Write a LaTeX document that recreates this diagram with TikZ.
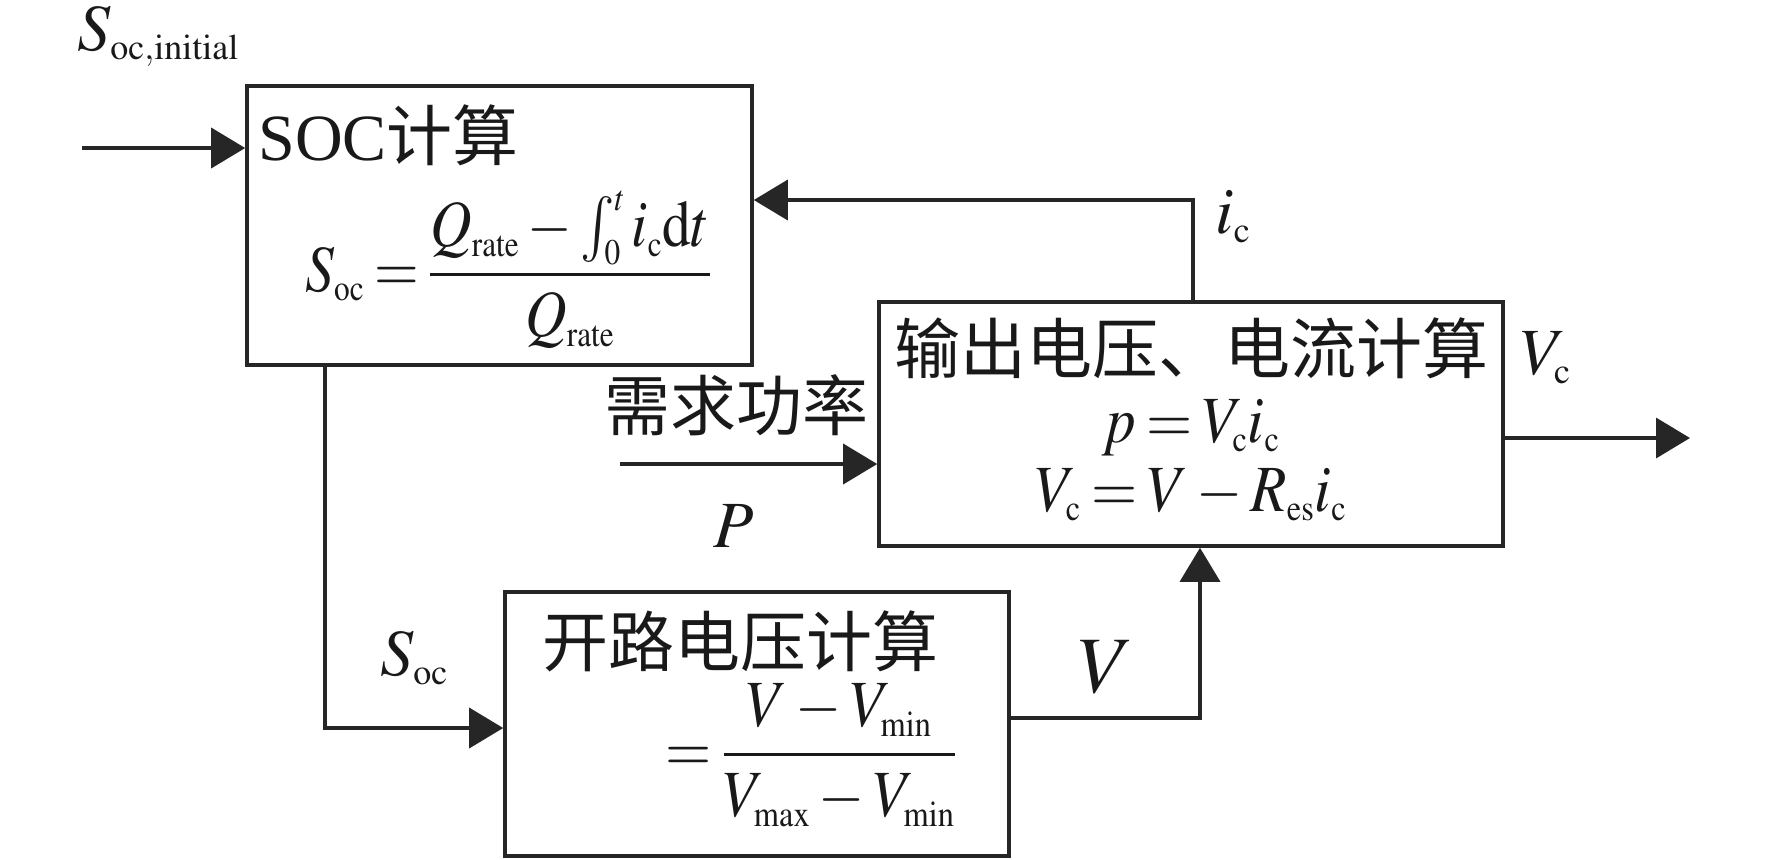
\documentclass[tikz,border=0pt]{standalone}
\usepackage{mathptmx}
\usepackage{fontspec}
\setmainfont{Liberation Serif}
\newfontfamily\tms{Liberation Serif}
\newfontfamily\cjk{Noto Sans CJK SC}
\usetikzlibrary{arrows.meta}
\DeclareMathSizes{33}{33}{18}{14}
\DeclareMathSizes{40}{40}{22}{16}
\newcommand{\mx}[2][0.9]{\scalebox{#1}[1]{\thickmuskip=3mu\medmuskip=2.5mu #2}}
\begin{document}
\begin{tikzpicture}[x=0.5pt,y=-0.5pt,
  blk/.style={draw=black!85, line width=1.8pt, inner sep=0pt},
  conn/.style={draw=black!85, line width=1.8pt},
  arr/.style={conn, -{Triangle[length=17pt,width=20pt]}},
  txt/.style={inner sep=0pt, font=\fontsize{33}{40}\selectfont, text=black!90},
  bigtxt/.style={inner sep=0pt, font=\fontsize{40}{48}\selectfont, text=black!90}]
\useasboundingbox (0,0) rectangle (1772,859);
% boxes
\node[blk, minimum width=252.5pt, minimum height=139.5pt] (b1) at (499.5,225.5) {};
\node[blk, minimum width=312pt, minimum height=122pt] (b2) at (1191,424) {};
\node[blk, minimum width=252pt, minimum height=132pt] (b3) at (757,724) {};
% coordinates
\coordinate (in) at (82,148);
\coordinate (fb) at (1193,200);
\coordinate (sd) at (325,728);
\coordinate (pin) at (620,464);
\coordinate (vr) at (1200,718);
\coordinate (out) at (1690,438);
% connectors
\draw[arr] (in) -- (in -| b1.west);
\draw[arr] (fb |- b2.north) -- (fb) -- (fb -| b1.east);
\draw[arr] (sd |- b1.south) -- (sd) -- (sd -| b3.west);
\draw[arr] (pin) -- (pin -| b2.west);
\draw[arr] (vr -| b3.east) -- (vr) -- (vr |- b2.south);
\draw[arr] (out -| b2.east) -- (out);
% texts
\node[txt, anchor=base west] (tinit) at (77,50) {$S_{\mathrm{oc,initial}}$};
\node[txt, anchor=base west] (t1) at (258,160) {{\tms SOC}{\cjk 计算}};
\node[txt, anchor=base west] (f1) at (305,291) {\mx[0.87]{$\displaystyle S_{\mathrm{oc}}=\frac{Q_{\mathrm{rate}}-\int_0^t i_{\mathrm{c}}\mathrm{d}t}{Q_{\mathrm{rate}}}$}};
\node[txt, anchor=base west] (t2) at (894,373) {\cjk 输出电压、电流计算};
\node[txt, anchor=base] (f2a) at (1191,442) {\mx{$p=V_{\mathrm{c}}i_{\mathrm{c}}$}};
\node[txt, anchor=base] (f2b) at (1191,511) {\mx{$V_{\mathrm{c}}=V-R_{\mathrm{es}}i_{\mathrm{c}}$}};
\node[txt, anchor=base west] (tdem) at (604,430) {\cjk 需求功率};
\node[txt, anchor=base west] (tP) at (713,547) {$P$};
\node[txt, anchor=base west] (tic) at (1215,233) {$i_{\mathrm{c}}$};
\node[txt, anchor=base west] (tvc) at (1520,374) {$V_{\mathrm{c}}$};
\node[txt, anchor=base west] (tsoc) at (380,675) {$S_{\mathrm{oc}}$};
\node[txt, anchor=base west] (t3) at (542,666) {\cjk 开路电压计算};
\node[txt, anchor=base west] (f3) at (665,771) {\mx{$\displaystyle =\frac{V-V_{\mathrm{min}}}{V_{\mathrm{max}}-V_{\mathrm{min}}}$}};
\node[bigtxt, anchor=base west] (tV) at (1078,692) {$V$};
\end{tikzpicture}
\end{document}
